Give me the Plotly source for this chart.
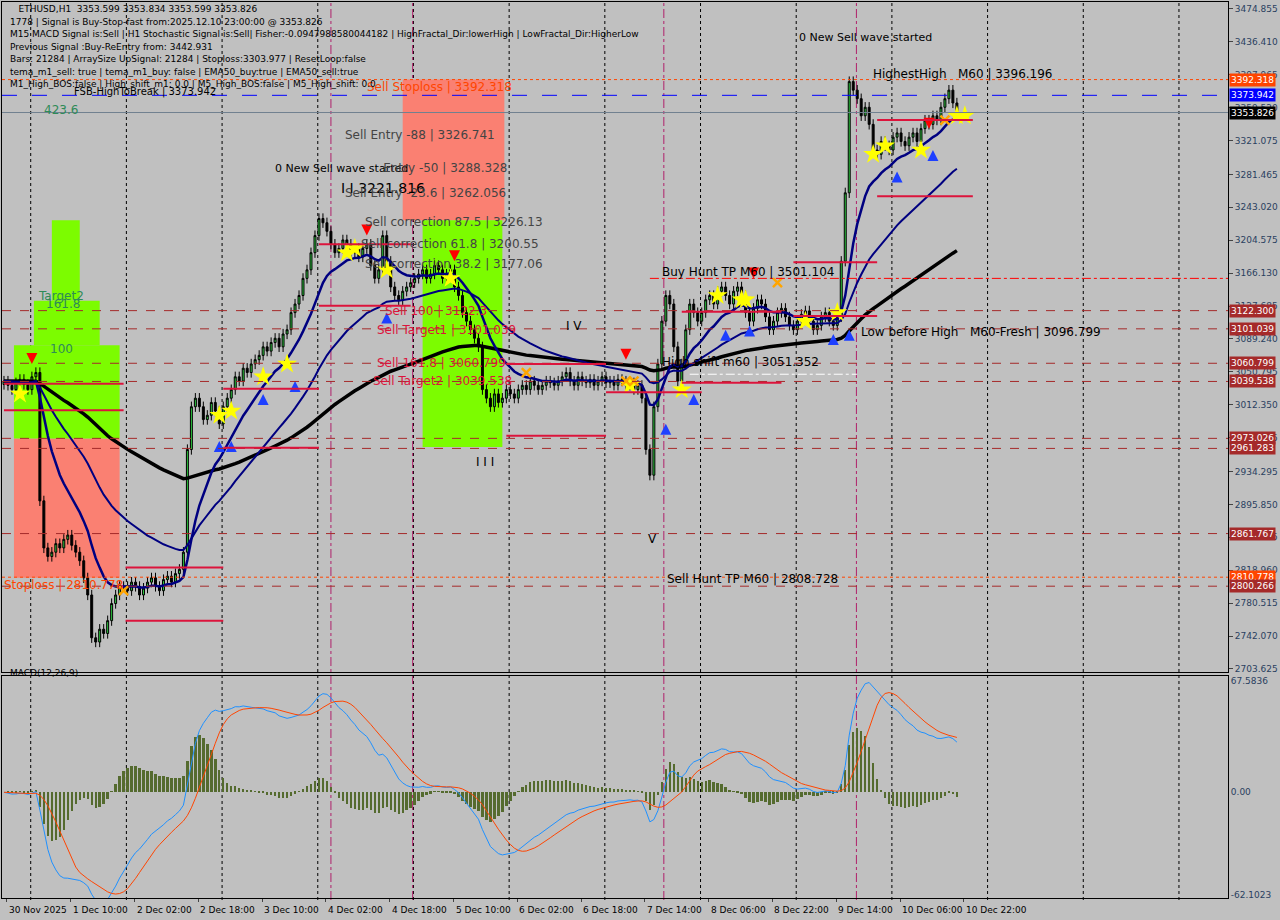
import plotly.graph_objects as go
import pandas as pd

closes = [3040,3035,3030,3038,3042,3036,3030,3045,
 3050,2900,2845,2835,2840,2850,2845,2855,2860,2848,2840,
 2830,2810,2790,2740,2735,2750,2745,2760,2780,2790,2800,
 2800,2795,2805,2800,2790,2798,2805,2810,2800,2795,2808,2812,2805,2815,2820,
 2840,2960,3010,3020,3010,2995,3000,3015,3005,2990,3010,3020,
 3030,3045,3040,3055,3050,3060,3065,3070,3080,3075,3085,3090,3080,3095,3100,
 3120,3130,3140,3160,3170,3190,3210,3230,3225,3215,
 3200,3190,3195,3205,3200,3190,3195,3185,3195,3200,3175,3160,3170,
 3210,3180,3150,3140,3135,3145,3150,
 3155,3160,3165,3170,3160,3165,3175,3170,3160,3165,3170,
 3150,3140,3120,3110,3100,3090,3080,
 3030,3020,3010,3025,3015,3020,3030,3025,3020,3030,
 3035,3030,3040,3035,3030,3035,3040,3038,3035,3040,
 3045,3050,3040,3035,3045,3040,3038,3042,3035,3040,3045,3038,3040,3035,3042,
 3040,3035,3038,3030,3035,3020,2960,2930,3010,3060,3110,3140,3130,3080,3040,
 3060,3100,3130,3120,3110,
 3120,3135,3140,3130,3145,3150,3140,3130,3145,3150,3140,3120,3110,3125,3135,
 3130,3115,3100,3110,3120,3125,3115,3105,3100,3110,3118,3122,3110,3100,3105,3115,3120,3110,3105,3115,
 3180,3260,3390,3380,3370,3350,3360,3340,
 3310,3305,3320,3315,3310,3325,3330,3320,3315,3325,3330,3320,
 3335,3345,3340,3350,3345,3360,3370,3380,3365,3353.826]
opens = [3036] + closes[:-1]
highs = [max(o, c) + 6 for o, c in zip(opens, closes)]
lows = [min(o, c) - 6 for o, c in zip(opens, closes)]
idx = list(range(len(closes)))

date_pos = [0.75, 16.75, 32.75, 48.75, 64.75, 80.75, 96.75, 112.75, 128.75, 144.75, 160.75, 176.75,
            192.75, 208.75, 224.75, 240.75]
date_labels = ["30 Nov 2025", "1 Dec 10:00", "2 Dec 02:00", "2 Dec 18:00", "3 Dec 10:00", "4 Dec 02:00",
               "4 Dec 18:00", "5 Dec 10:00", "6 Dec 02:00", "6 Dec 18:00", "7 Dec 14:00", "8 Dec 06:00",
               "8 Dec 22:00", "9 Dec 14:00", "10 Dec 06:00", "10 Dec 22:00"]
price_ticks = [3474.855, 3436.410, 3397.965, 3359.520, 3321.075, 3281.465, 3243.020, 3204.575, 3166.130,
               3127.685, 3089.240, 3050.795, 3012.350, 2973.905, 2934.295, 2895.850, 2857.405, 2818.960,
               2780.515, 2742.070, 2703.625]
levels_brown = [3122.300, 3101.039, 3060.799, 3039.538, 2973.026, 2961.283, 2861.767, 2800.266]

red_segments = [(79, 102, 3200), (79, 102, 3128), (55, 79, 3031), (55, 79, 2962), (30.5, 55, 2822),
                (30.5, 55, 2760), (126, 151, 3060), (126, 151, 2976), (151, 175, 3027), (170, 195, 3121),
                (170, 195, 3038), (219, 243, 3345), (219, 243, 3256), (198, 219, 3179), (198, 219, 3116),
                (0, 30, 3037), (0, 30, 3006)]

stars_x = [4, 54, 57, 65, 71, 86, 88, 96, 112, 157, 170, 179, 185, 186, 201, 209, 218, 221, 230, 239, 241]
stars_y = [3025, 3000, 3005, 3045, 3060, 3190, 3195, 3170, 3160, 3035, 3030, 3140, 3135, 3135, 3110, 3120, 3305, 3315, 3310, 3350, 3350]
up_x = [54, 57, 65, 73, 96, 166, 173, 181, 187, 208, 212, 224, 233]
up_y = [2970, 2970, 3025, 3040, 3120, 2990, 3025, 3100, 3105, 3095, 3100, 3285, 3310]
dn_x = [7, 91, 113, 156, 188, 232]
dn_y = [3060, 3210, 3180, 3065, 3160, 3335]
xx_x = [30, 131, 156, 158, 194, 236]
xx_y = [2795, 3050, 3040, 3040, 3155, 3345]

s = pd.Series(closes, dtype=float)
ema_fast = s.ewm(span=14, adjust=False).mean()
ema_mid = s.ewm(span=40, adjust=False).mean()
ema_slow = s.ewm(span=110, adjust=False).mean()
macd = s.ewm(span=12, adjust=False).mean() - s.ewm(span=26, adjust=False).mean()
signal = macd.rolling(9, min_periods=1).mean()
hist = macd - signal

BG = "#c0c0c0"
fig = go.Figure()

shapes = []
def rect(x0, x1, y0, y1, color, op=1.0):
    shapes.append(dict(type="rect", xref="x", yref="y", x0=x0, x1=x1, y0=y0, y1=y1,
                       fillcolor=color, opacity=op, line_width=0, layer="below"))
rect(100, 125.5, 3228, 3392.3, "#fa8072")
rect(105, 125, 2963, 3228, "#7cfc00")
rect(2.5, 29, 2810, 2973, "#fa8072")
rect(2.5, 29, 2973, 3082, "#7cfc00")
rect(7.5, 24, 3082, 3134, "#7cfc00")
rect(12, 19, 3134, 3228, "#7cfc00")

for k in range(7, 310, 24):
    shapes.append(dict(type="line", xref="x", yref="paper", x0=k - 0.3, x1=k - 0.3, y0=0, y1=1,
                       line=dict(color="black", width=1, dash="dot"), layer="below"))
for k in [82, 102.5, 165.5, 213.8]:
    shapes.append(dict(type="line", xref="x", yref="paper", x0=k, x1=k, y0=0, y1=1,
                       line=dict(color="#b0206a", width=1, dash="dashdot"), layer="below"))
fig.update_layout(shapes=shapes)

for p in levels_brown:
    fig.add_hline(y=p, line=dict(color="#a52a2a", width=1, dash="dash"), yref="y")
fig.add_hline(y=2810.778, line=dict(color="#ff4500", width=1, dash="dot"), yref="y")
fig.add_hline(y=3392.318, line=dict(color="#ff4500", width=1, dash="dot"), yref="y")
fig.add_hline(y=3373.942, line=dict(color="#0000ff", width=1, dash="longdash"), yref="y")
fig.add_hline(y=3353.826, line=dict(color="#708090", width=1), yref="y")
fig.add_shape(type="line", xref="x", yref="y", x0=162, x1=310, y0=3160, y1=3160,
              line=dict(color="red", width=1, dash="dashdot"))
fig.add_shape(type="line", xref="x", yref="y", x0=172, x1=214, y0=3048, y1=3048,
              line=dict(color="white", width=1, dash="dashdot"))
for x0, x1, p in red_segments:
    fig.add_shape(type="line", xref="x", yref="y", x0=x0, x1=x1, y0=p, y1=p,
                  line=dict(color="#dc143c", width=2))

fig.add_trace(go.Candlestick(x=idx, open=opens, high=highs, low=lows, close=closes,
    increasing=dict(line=dict(color="black", width=1), fillcolor="#2ecc40"),
    decreasing=dict(line=dict(color="black", width=1), fillcolor="black"),
    whiskerwidth=0, showlegend=False, xaxis="x", yaxis="y"))
fig.add_trace(go.Scatter(x=idx, y=ema_slow, mode="lines", line=dict(color="black", width=3.5), xaxis="x", yaxis="y"))
fig.add_trace(go.Scatter(x=idx, y=ema_mid, mode="lines", line=dict(color="#000080", width=2), xaxis="x", yaxis="y"))
fig.add_trace(go.Scatter(x=idx, y=ema_fast, mode="lines", line=dict(color="#000080", width=2.5), xaxis="x", yaxis="y"))

fig.add_trace(go.Scatter(x=stars_x, y=stars_y, mode="markers", marker=dict(symbol="star", size=15, color="yellow", line=dict(width=0)), xaxis="x", yaxis="y"))
fig.add_trace(go.Scatter(x=up_x, y=up_y, mode="markers", marker=dict(symbol="arrow-up", size=11, color="#1e40ff", line=dict(width=0)), xaxis="x", yaxis="y"))
fig.add_trace(go.Scatter(x=dn_x, y=dn_y, mode="markers", marker=dict(symbol="arrow-down", size=11, color="red", line=dict(width=0)), xaxis="x", yaxis="y"))
fig.add_trace(go.Scatter(x=xx_x, y=xx_y, mode="markers", marker=dict(symbol="x-thin", size=9, color="orange", line=dict(width=2.5, color="orange")), xaxis="x", yaxis="y"))

fig.add_trace(go.Bar(x=idx, y=hist, marker=dict(color="#556b2f", line_width=0), width=0.6, xaxis="x2", yaxis="y2"))
fig.add_trace(go.Scatter(x=idx, y=macd, mode="lines", line=dict(color="#1e90ff", width=1), xaxis="x2", yaxis="y2"))
fig.add_trace(go.Scatter(x=idx, y=signal, mode="lines", line=dict(color="#ff4500", width=1), xaxis="x2", yaxis="y2"))

ann = []
def txt(x, y, t, color="black", size=12):
    ann.append(dict(x=x, y=y, xref="x", yref="y", text=t, showarrow=False, xanchor="left",
                    font=dict(family="DejaVu Sans", size=size, color=color)))
txt(90.5, 3384, "Sell Stoploss | 3392.318", "#ff4500")
txt(85, 3327, "Sell Entry -88 | 3326.741", "#444444")
txt(67.5, 3288, "0 New Sell wave started", "black", 11)
txt(85, 3289, "          Entry -50 | 3288.328", "#444444")
txt(84, 3266, "I I 3221.816", "black", 14)
txt(85, 3260, "Sell Entry -23.6 | 3262.056", "#444444")
txt(90, 3226, "Sell correction 87.5 | 3226.13", "#444444")
txt(89, 3200, "Sell correction 61.8 | 3200.55", "#444444")
txt(90, 3177, "Sell correction 38.2 | 3177.06", "#444444")
txt(95, 3122, "Sell 100 | 3122.3", "#dc143c")
txt(93, 3100, "Sell Target1 | 3101.039", "#dc143c")
txt(93, 3061, "Sell 161.8 | 3060.799", "#dc143c")
txt(92, 3040, "Sell Target2 | 3039.538", "#dc143c")
txt(164.5, 3167, "Buy Hunt TP M60 | 3501.104")
txt(164.5, 3062, "High shift m60 | 3051.352")
txt(165.7, 2809, "Sell Hunt TP M60 | 2808.728")
txt(214.5, 3097, "Low before High   M60-Fresh | 3096.799")
txt(217.5, 3399, "HighestHigh   M60 | 3396.196")
txt(199, 3441, "0 New Sell wave started", "black", 11)
txt(17, 3378, "FSB-HighToBreak | 3373.942", "black", 10)
txt(9.5, 3357, "423.6", "#2e8b57")
txt(8, 3140, "Target2", "#2e8b57")
txt(10, 3130, "161.8", "#2e8b57")
txt(11, 3078, "100", "#2e8b57")
txt(-0.5, 2802, "Stoploss | 2810.778", "#ff4500")
txt(140.5, 3104, "I V")
txt(118, 2946, "I I I")
txt(161, 2855, "V")

info = ["   ETHUSD,H1  3353.599 3353.834 3353.599 3353.826",
        "1778 | Signal is Buy-Stop-fast from:2025.12.10 23:00:00 @ 3353.826",
        "M15 MACD Signal is:Sell | H1 Stochastic Signal is:Sell| Fisher:-0.0947988580044182 | HighFractal_Dir:lowerHigh | LowFractal_Dir:HigherLow",
        "Previous Signal :Buy-ReEntry from: 3442.931",
        "Bars: 21284 | ArraySize UpSignal: 21284 | Stoploss:3303.977 | ResetLoop:false",
        "tema_m1_sell: true | tema_m1_buy: false | EMA50_buy:true | EMA50_sell:true",
        "M1_High_BOS:false | High_shift_m1: 0.0 | M5_High_BOS:false | M5_High_shift: 0.0"]
for i, line in enumerate(info):
    ann.append(dict(x=0.005, y=0.992 - i * 0.0139, xref="paper", yref="paper", text=line, showarrow=False,
                    xanchor="left", yanchor="middle", font=dict(family="DejaVu Sans", size=9, color="black")))

for p, c in [(3392.318, "#ff4500"), (3373.942, "#0000ff"), (3353.826, "black"),
             (3122.300, "#a52a2a"), (3101.039, "#a52a2a"), (3060.799, "#a52a2a"),
             (3039.538, "#a52a2a"), (2973.026, "#a52a2a"), (2961.283, "#a52a2a"),
             (2861.767, "#a52a2a"), (2810.778, "#ff4500"), (2800.266, "#a52a2a")]:
    ann.append(dict(x=1.001, y=p, xref="paper", yref="y", text=f"{p:.3f}", showarrow=False, xanchor="left",
                    bgcolor=c, borderpad=1, font=dict(family="DejaVu Sans", size=9, color="white")))
ann.append(dict(x=0.005, y=0.245, xref="paper", yref="paper", text="MACD(12,26,9)", showarrow=False,
                xanchor="left", font=dict(family="DejaVu Sans", size=9, color="black")))
for p, lab in zip(date_pos, date_labels):
    ann.append(dict(x=p, y=0, xref="x2", yref="paper", text=lab, showarrow=False, xanchor="left",
                    yanchor="top", yshift=-3, font=dict(family="DejaVu Sans", size=9, color="black")))

fig.update_layout(
    width=1280, height=920, paper_bgcolor=BG, plot_bgcolor=BG, showlegend=False,
    margin=dict(l=2, r=52, t=2, b=20), annotations=ann, bargap=0,
    xaxis=dict(range=[-0.5, 307], domain=[0, 1], anchor="y", showticklabels=False, showgrid=False,
               zeroline=False, rangeslider=dict(visible=False), showline=True, linecolor="black", mirror=True),
    yaxis=dict(domain=[0.254, 1], range=[2700.1, 3483.0], side="right", tickvals=price_ticks,
               ticktext=[f"{v:.3f}" for v in price_ticks], showgrid=False, zeroline=False, ticks="outside",
               ticklen=4, tickfont=dict(family="DejaVu Sans", size=9), showline=True, linecolor="black", mirror=True),
    xaxis2=dict(range=[-0.5, 307], domain=[0, 1], anchor="y2", tickvals=date_pos, showticklabels=False,
                showgrid=False, zeroline=False, ticks="outside",
                ticklen=3, showline=True, linecolor="black", mirror=True),
    yaxis2=dict(domain=[0.002, 0.249], range=[-64, 70], side="right", tickvals=[67.5836, 0, -62.1023],
                ticktext=["67.5836", "0.00", "-62.1023"], showgrid=False, zeroline=False,
                tickfont=dict(family="DejaVu Sans", size=9), showline=True, linecolor="black", mirror=True),
)
fig.write_html("out.html", config={"displayModeBar": False})
with open("out.html", encoding="utf-8") as f:
    html = f.read()
html = html.replace("<head>", "<head><style>html,body{margin:0;padding:0;overflow:hidden;background:#c0c0c0}</style>", 1)
with open("out.html", "w", encoding="utf-8") as f:
    f.write(html)
